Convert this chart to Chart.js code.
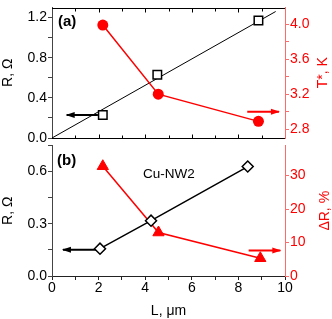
<!DOCTYPE html>
<html>
<head>
<meta charset="utf-8">
<script src="https://cdn.jsdelivr.net/npm/chart.js@4/dist/chart.umd.min.js"></script>
<style>
  html, body { margin: 0; padding: 0; background: #fff; }
  #wrap { position: relative; width: 332px; height: 319px; overflow: hidden; }
  #boxA { position: absolute; left: 0; top: 0; width: 332px; height: 147px; }
  #boxB { position: absolute; left: 0; top: 138px; width: 332px; height: 181px; }
</style>
</head>
<body>
<div id="wrap">
  <div id="boxA"><canvas id="chartA"></canvas></div>
  <div id="boxB"><canvas id="chartB"></canvas></div>
</div>
<script>
// ---- data ----
// panel (a): resistance vs length (open squares) + linear fit, T* (red circles)
const lenA   = [2.18, 4.52, 8.86];
const resA   = [0.23, 0.63, 1.17];
const fitLen = [0, 9.6];
const fitRes = [0, 1.26];
const lenT   = [2.18, 4.56, 8.86];
const tStar  = [3.99, 3.20, 2.89];

// panel (b): Cu-NW2 resistance (open diamonds) + delta R (red triangles)
const lenB   = [2.06, 4.25, 8.40];
const resB   = [0.157, 0.318, 0.629];
const lenDR  = [2.18, 4.57, 8.94];
const deltaR = [32.8, 13.0, 5.3];

// arrows pointing at the axis each series belongs to: [start, tip] in L, at one level
const arrowResA = { len: [1.97, 0.63], level: 0.23 };
const arrowTA   = { len: [8.38, 9.74], level: 3.0 };
const arrowResB = { len: [2.02, 0.47], level: 0.151 };
const arrowDRB  = { len: [8.44, 9.80], level: 7.6 };

// labelled tick values
const lenTicks  = [0, 2, 4, 6, 8, 10];
const resTicksA = [0.0, 0.4, 0.8, 1.2];
const tTicks    = [2.8, 3.2, 3.6, 4.0];
const resTicksB = [0.0, 0.3, 0.6];
const dRTicks   = [0, 10, 20, 30];

const RED = '#ff0000';
const RED_AXIS = '#ff6a6a';

Chart.defaults.font.family = "'Liberation Sans', Arial, sans-serif";
Chart.defaults.font.size = 14;
Chart.defaults.color = '#000';
Chart.defaults.animation = false;

function pts(xs, ys) {
  return xs.map((x, i) => ({ x: x, y: ys[i] }));
}
function arrowPts(a) {
  return a.len.map(x => ({ x: x, y: a.level }));
}
function labelFrom(list, digits) {
  return function (v) {
    const hit = list.some(t => Math.abs(t - v) < 1e-6);
    return hit ? Number(v).toFixed(digits) : '';
  };
}
function fixWidth(w) {
  return function (scale) {
    scale.width = w;
    scale.paddingTop = 0;
    scale.paddingBottom = 0;
  };
}

// filled arrow heads on datasets flagged with arrow: true
const arrowHeads = {
  id: 'arrowHeads',
  afterDatasetsDraw(chart) {
    const ctx = chart.ctx;
    chart.data.datasets.forEach((ds, i) => {
      if (!ds.arrow) return;
      const p = chart.getDatasetMeta(i).data;
      const p0 = p[p.length - 2], p1 = p[p.length - 1];
      const ang = Math.atan2(p1.y - p0.y, p1.x - p0.x);
      ctx.save();
      ctx.fillStyle = ds.borderColor;
      ctx.translate(p1.x, p1.y);
      ctx.rotate(ang);
      ctx.beginPath();
      ctx.moveTo(1, 0);
      ctx.lineTo(-8, -3);
      ctx.lineTo(-8, 3);
      ctx.closePath();
      ctx.fill();
      ctx.restore();
    });
  }
};

// top/bottom frame of panel (a) with inward ticks
const innerFrame = {
  id: 'innerFrame',
  afterDraw(chart, args, opts) {
    if (!opts.on) return;
    const ctx = chart.ctx, a = chart.chartArea, xs = chart.scales.x;
    const yt = Math.round(a.top) + 0.5, yb = Math.round(a.bottom) + 0.5;
    ctx.save();
    ctx.strokeStyle = '#000';
    ctx.lineWidth = 1;
    ctx.beginPath();
    ctx.moveTo(a.left, yt); ctx.lineTo(a.right, yt);
    ctx.moveTo(a.left, yb); ctx.lineTo(a.right, yb);
    for (let v = Math.ceil(xs.min) + 1; v < xs.max; v++) {
      const px = Math.round(xs.getPixelForValue(v)) + 0.5;
      const l = v % 2 === 0 ? 4 : 3;
      ctx.moveTo(px, yt); ctx.lineTo(px, yt + l);
      ctx.moveTo(px, yb); ctx.lineTo(px, yb - l);
    }
    ctx.stroke();
    ctx.restore();
  }
};

// right-hand axis title, read bottom-to-top like the left one
const rightTitle = {
  id: 'rightTitle',
  afterDraw(chart, args, opts) {
    if (!opts.text) return;
    const ctx = chart.ctx, a = chart.chartArea, s = chart.scales.y1;
    ctx.save();
    ctx.translate(s.right - opts.offset, (a.top + a.bottom) / 2);
    ctx.rotate(-Math.PI / 2);
    ctx.font = "14px 'Liberation Sans', Arial";
    ctx.fillStyle = opts.color;
    ctx.textAlign = 'center';
    ctx.textBaseline = 'middle';
    ctx.fillText(opts.text, 0, 0);
    ctx.restore();
  }
};

const panelText = {
  id: 'panelText',
  afterDraw(chart, args, opts) {
    const ctx = chart.ctx, a = chart.chartArea;
    ctx.save();
    ctx.textBaseline = 'middle';
    ctx.textAlign = 'left';
    (opts.items || []).forEach(t => {
      ctx.font = t.font;
      ctx.fillStyle = t.color || '#000';
      ctx.fillText(t.text, a.left + t.dx, a.top + t.dy);
    });
    ctx.restore();
  }
};

function yAxis(opts) {
  return {
    type: 'linear',
    position: opts.position,
    min: opts.min,
    max: opts.max,
    afterFit: fixWidth(opts.width),
    border: { color: opts.axisColor, width: 1 },
    grid: { drawOnChartArea: false, drawTicks: true, tickLength: 4, color: opts.axisColor },
    ticks: {
      stepSize: opts.step,
      includeBounds: false,
      padding: 1,
      color: opts.color,
      callback: labelFrom(opts.labels, opts.digits)
    },
    title: {
      display: !!opts.title,
      text: opts.title || '',
      color: opts.color,
      font: { size: 14 },
      padding: { top: 0, bottom: 0 }
    }
  };
}

// ---- panel (a) ----
new Chart(document.getElementById('chartA'), {
  type: 'scatter',
  data: {
    datasets: [
      {
        data: pts(lenA, resA), yAxisID: 'y', order: 1, showLine: false,
        pointStyle: 'rect', pointRadius: 6, pointBackgroundColor: '#fff',
        pointBorderColor: '#000', pointBorderWidth: 1.5
      },
      {
        data: pts(lenT, tStar), yAxisID: 'y1', order: 2, showLine: true,
        borderColor: RED, borderWidth: 1.5,
        pointStyle: 'circle', pointRadius: 5.5, pointBackgroundColor: RED,
        pointBorderColor: RED, pointBorderWidth: 0
      },
      {
        data: pts(fitLen, fitRes), yAxisID: 'y', order: 3, showLine: true,
        borderColor: '#000', borderWidth: 1, pointRadius: 0
      },
      {
        data: arrowPts(arrowResA), yAxisID: 'y', order: 4, showLine: true, arrow: true,
        borderColor: '#000', borderWidth: 2, pointRadius: 0
      },
      {
        data: arrowPts(arrowTA), yAxisID: 'y1', order: 4, showLine: true, arrow: true,
        borderColor: RED, borderWidth: 2, pointRadius: 0
      }
    ]
  },
  options: {
    responsive: true,
    maintainAspectRatio: false,
    layout: { padding: { top: 1, bottom: 9, left: 0, right: 0 } },
    plugins: {
      legend: { display: false },
      tooltip: { enabled: false },
      innerFrame: { on: true },
      rightTitle: { text: 'T*, K', color: RED, offset: 8.5 },
      panelText: { items: [{ text: '(a)', font: "bold 15px 'Liberation Sans', Arial", dx: 6, dy: 14 }] }
    },
    scales: {
      x: { type: 'linear', min: 0, max: 10, display: false },
      y: yAxis({ position: 'left', min: 0, max: 1.3, step: 0.2, labels: resTicksA, digits: 1,
                 width: 52, axisColor: '#444', color: '#000', title: 'R, Ω' }),
      y1: yAxis({ position: 'right', min: 2.7, max: 4.19, step: 0.2, labels: tTicks, digits: 1,
                  width: 47, axisColor: RED_AXIS, color: RED })
    }
  },
  plugins: [arrowHeads, innerFrame, rightTitle, panelText]
});

// ---- panel (b) ----
new Chart(document.getElementById('chartB'), {
  type: 'scatter',
  data: {
    datasets: [
      {
        data: pts(lenB, resB), yAxisID: 'y', order: 1, showLine: true,
        borderColor: '#000', borderWidth: 1.5,
        pointStyle: 'rectRot', pointRadius: 5.5, pointBackgroundColor: '#fff',
        pointBorderColor: '#000', pointBorderWidth: 1.5
      },
      {
        data: pts(lenDR, deltaR), yAxisID: 'y1', order: 2, showLine: true,
        borderColor: RED, borderWidth: 1.5,
        pointStyle: 'triangle', pointRadius: 6.5, pointBackgroundColor: RED,
        pointBorderColor: RED, pointBorderWidth: 1
      },
      {
        data: arrowPts(arrowResB), yAxisID: 'y', order: 4, showLine: true, arrow: true,
        borderColor: '#000', borderWidth: 2, pointRadius: 0
      },
      {
        data: arrowPts(arrowDRB), yAxisID: 'y1', order: 4, showLine: true, arrow: true,
        borderColor: RED, borderWidth: 2, pointRadius: 0
      }
    ]
  },
  options: {
    responsive: true,
    maintainAspectRatio: false,
    layout: { padding: 0 },
    plugins: {
      legend: { display: false },
      tooltip: { enabled: false },
      innerFrame: { on: false },
      rightTitle: { text: 'ΔR, %', color: RED, offset: 7 },
      panelText: { items: [
        { text: '(b)', font: "bold 15px 'Liberation Sans', Arial", dx: 5, dy: 15.5 },
        { text: 'Cu-NW2', font: "13.5px 'Liberation Sans', Arial", dx: 91, dy: 29 }
      ] }
    },
    scales: {
      x: {
        type: 'linear', min: 0, max: 10,
        afterFit(scale) { scale.height = 43; },
        border: { color: '#222', width: 1 },
        grid: { drawOnChartArea: false, tickLength: 4, color: '#222' },
        ticks: { stepSize: 1, padding: 0, maxRotation: 0, autoSkip: false,
                 callback: labelFrom(lenTicks, 0) },
        title: { display: true, text: 'L, μm', font: { size: 14 }, padding: { top: 0, bottom: -1 } }
      },
      y: yAxis({ position: 'left', min: 0, max: 0.75, step: 0.15, labels: resTicksB, digits: 1,
                 width: 52, axisColor: '#444', color: '#000', title: 'R, Ω' }),
      y1: yAxis({ position: 'right', min: 0, max: 39, step: 5, labels: dRTicks, digits: 0,
                  width: 47, axisColor: RED_AXIS, color: RED })
    }
  },
  plugins: [arrowHeads, rightTitle, panelText]
});
</script>
</body>
</html>
